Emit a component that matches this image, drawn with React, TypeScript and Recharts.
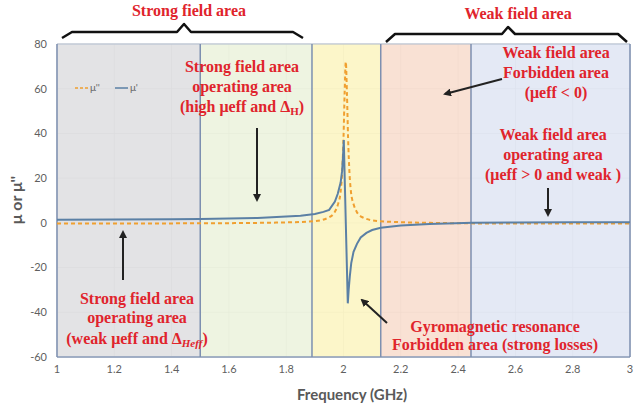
import {
  ComposedChart, Line, XAxis, YAxis, CartesianGrid,
  ReferenceArea, ReferenceLine,
} from 'recharts'

const freqReal = [1.0, 1.2, 1.4, 1.5, 1.6, 1.7, 1.8, 1.85, 1.9, 1.93, 1.95, 1.97, 1.98, 1.99, 1.995, 1.998, 2.001, 2.008, 2.015, 2.018, 2.022, 2.027, 2.035, 2.047, 2.06, 2.08, 2.1, 2.13, 2.2, 2.3, 2.45, 2.6, 2.8, 3.0]
const muReal = [1.4, 1.5, 1.6, 1.7, 1.9, 2.2, 2.8, 3.2, 4.0, 4.9, 5.8, 9.5, 13, 18, 23, 29, 37, 0, -36, -30, -24, -18, -13, -9.4, -6.5, -4.5, -3.2, -2.2, -1.2, -0.5, 0, 0.2, 0.3, 0.3]

// μ'' (imaginary part)
const freqImag = [1.0, 1.5, 1.8, 1.9, 1.95, 1.97, 1.98, 1.99, 1.995, 2.0, 2.004, 2.008, 2.012, 2.016, 2.021, 2.026, 2.036, 2.046, 2.066, 2.12, 2.3, 2.6, 3.0]
const muImag = [-0.3, -0.2, 0.2, 0.8, 2.5, 5, 8, 14, 22, 38, 58, 72, 58, 38, 22, 14, 8, 5, 2.5, 0.8, 0, -0.3, -0.3]

const xTicks = [1, 1.2, 1.4, 1.6, 1.8, 2, 2.2, 2.4, 2.6, 2.8, 3]
const yTicks = [-60, -40, -20, 0, 20, 40, 60, 80]

// shaded zones (GHz)
const zoneEdges = [1, 1.5, 1.89, 2.13, 2.445, 3]
const zoneFills = ['#dedee0', '#ebf2dc', '#fbf4bf', '#f8dccc', '#dfe5f3']

const realData = freqReal.map((f, i) => ({ f, v: muReal[i] }))
const imagData = freqImag.map((f, i) => ({ f, v: muImag[i] }))

const RED = '#e0242c'
const serif = { fontFamily: '"Liberation Serif", serif', fontWeight: 700, fontSize: 16, fill: RED }

function Annotations() {
  return (
    <svg width={635} height={409} style={{ position: 'absolute', left: 0, top: 0, pointerEvents: 'none' }}>
      <defs>
        <marker id="ah" markerWidth="8" markerHeight="8" refX="6" refY="4" orient="auto" markerUnits="userSpaceOnUse">
          <path d="M0,0 L8,4 L0,8 z" fill="#222" />
        </marker>
      </defs>

      {/* top braces */}
      <path d="M62,38 L72,32 L177,32 L184,24 L191,32 L293,32 L303,38" fill="none" stroke="#111" strokeWidth={2.5} strokeLinejoin="round" />
      <path d="M386,42 L395,34 L502,34 L508,27 L515,34 L618,34 L627,42" fill="none" stroke="#111" strokeWidth={2.5} strokeLinejoin="round" />
      <text x={189} y={16} textAnchor="middle" {...serif}>Strong field area</text>
      <text x={518} y={19} textAnchor="middle" {...serif}>Weak field area</text>

      {/* legend */}
      <line x1={75} y1={88} x2={88} y2={88} stroke="#f0a030" strokeWidth={1.5} strokeDasharray="3 2" />
      <text x={90} y={91} fontSize={10} fill="#666" fontFamily="Lato">μ''</text>
      <line x1={115} y1={88} x2={128} y2={88} stroke="#5b80a5" strokeWidth={1.5} />
      <text x={130} y={91} fontSize={10} fill="#666" fontFamily="Lato">μ'</text>

      {/* strong field operating (high) */}
      <text x={242} y={72} textAnchor="middle" {...serif}>Strong field area</text>
      <text x={242} y={92} textAnchor="middle" {...serif}>operating area</text>
      <text x={242} y={112} textAnchor="middle" {...serif}>
        (high μeff and Δ<tspan fontSize={11} dy={3}>H</tspan><tspan dy={-3}>)</tspan>
      </text>
      <line x1={257} y1={128} x2={257} y2={200} stroke="#222" strokeWidth={2} markerEnd="url(#ah)" />

      {/* weak field forbidden */}
      <text x={556} y={58} textAnchor="middle" {...serif}>Weak field area</text>
      <text x={556} y={78} textAnchor="middle" {...serif}>Forbidden area</text>
      <text x={556} y={98} textAnchor="middle" {...serif}>(μeff &lt; 0)</text>
      <line x1={502} y1={79} x2={445} y2={94} stroke="#222" strokeWidth={2} markerEnd="url(#ah)" />

      {/* weak field operating */}
      <text x={553} y={140} textAnchor="middle" {...serif}>Weak field area</text>
      <text x={553} y={160} textAnchor="middle" {...serif}>operating area</text>
      <text x={553} y={180} textAnchor="middle" {...serif}>(μeff &gt; 0 and weak )</text>
      <line x1={548} y1={188} x2={548} y2={215} stroke="#222" strokeWidth={2} markerEnd="url(#ah)" />

      {/* strong field operating (weak) */}
      <line x1={123} y1={280} x2={123} y2={232} stroke="#222" strokeWidth={2} markerEnd="url(#ah)" />
      <text x={137} y={304} textAnchor="middle" {...serif}>Strong field area</text>
      <text x={137} y={323} textAnchor="middle" {...serif}>operating area</text>
      <text x={137} y={344} textAnchor="middle" {...serif}>
        (weak μeff and Δ<tspan fontSize={11} dy={3} fontStyle="italic">Heff</tspan><tspan dy={-3}>)</tspan>
      </text>

      {/* gyromagnetic resonance */}
      <line x1={387} y1={323} x2={362} y2={300} stroke="#222" strokeWidth={2} markerEnd="url(#ah)" />
      <text x={495} y={332} textAnchor="middle" {...serif}>Gyromagnetic resonance</text>
      <text x={495} y={350} textAnchor="middle" {...serif}>Forbidden area (strong losses)</text>

      {/* axis titles */}
      <text x={352} y={400} textAnchor="middle" fontFamily="Lato" fontWeight={700} fontSize={15} fill="#595959">Frequency (GHz)</text>
      <text x={22} y={200} transform="rotate(-90 22 200)" textAnchor="middle" fontFamily="Lato" fontWeight={700} fontSize={16} fill="#595959">μ or μ''</text>
    </svg>
  )
}

export default function App() {
  return (
    <div style={{ position: 'absolute', left: 0, top: 0, width: 635, height: 409, background: '#fff' }}>
      <ComposedChart width={635} height={409} margin={{ top: 44, right: 5, bottom: 0, left: 0 }}>
        <CartesianGrid stroke="#cfcfcf" strokeWidth={0.8} />
        <XAxis
          type="number"
          dataKey="f"
          domain={[1, 3]}
          ticks={xTicks}
          tickFormatter={(v) => String(Math.round(v * 10) / 10)}
          allowDuplicatedCategory={false}
          height={52}
          tickLine={false}
          axisLine={false}
          tick={{ fontSize: 11, fill: '#5f5f5f', fontFamily: 'Lato' }}
        />
        <YAxis
          type="number"
          domain={[-60, 80]}
          ticks={yTicks}
          width={57}
          tickLine={false}
          axisLine={false}
          tickMargin={4}
          tick={{ fontSize: 11, fill: '#5f5f5f', fontFamily: 'Lato' }}
        />

        {zoneFills.map((c, i) => (
          <ReferenceArea key={i} x1={zoneEdges[i]} x2={zoneEdges[i + 1]} fill={c} fillOpacity={0.85} stroke="none" />
        ))}
        <ReferenceLine y={80} stroke="#b3bfd2" strokeWidth={1.2} />
        <ReferenceLine y={-60} stroke="#8a9bb8" strokeWidth={1.5} />
        {zoneEdges.map((x) => (
          <ReferenceLine key={x} x={x} stroke="#7d8fb0" strokeWidth={1.5} />
        ))}

        <Line data={imagData} dataKey="v" type="monotone" stroke="#f0a030" strokeWidth={2} strokeDasharray="4 3" dot={false} isAnimationActive={false} />
        <Line data={realData} dataKey="v" type="linear" stroke="#5b80a5" strokeWidth={2} dot={false} isAnimationActive={false} />
      </ComposedChart>
      <Annotations />
    </div>
  )
}
